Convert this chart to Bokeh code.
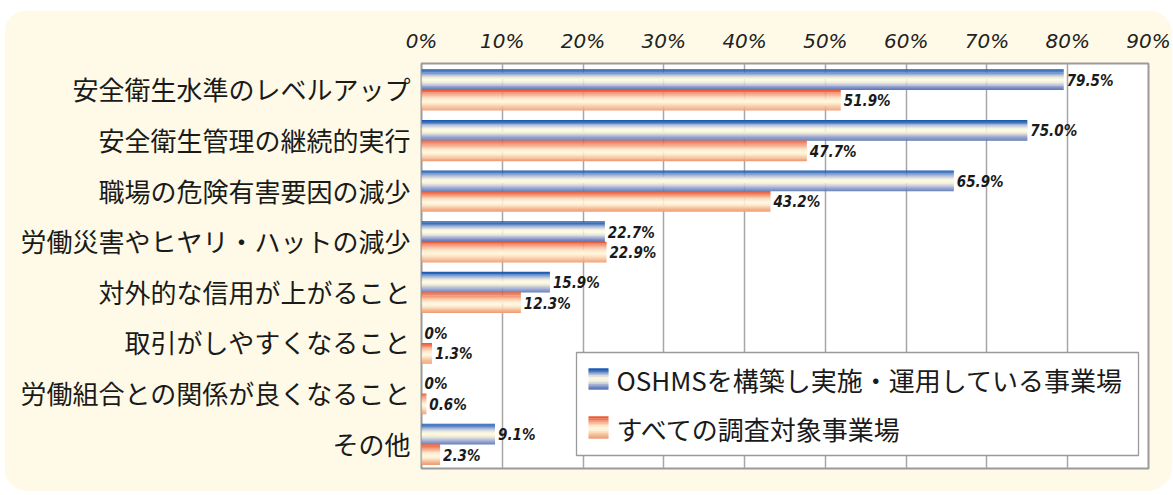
from bokeh.plotting import figure
from bokeh.models import FactorRange, Range1d, FixedTicker, ColumnDataSource, Spacer
from bokeh.transform import dodge
from bokeh.layouts import column, row
from bokeh.core.properties import value
from bokeh.embed import file_html
from bokeh.resources import INLINE

# ---------------- data ----------------
categories = [
    "安全衛生水準のレベルアップ",
    "安全衛生管理の継続的実行",
    "職場の危険有害要因の減少",
    "労働災害やヒヤリ・ハットの減少",
    "対外的な信用が上がること",
    "取引がしやすくなること",
    "労働組合との関係が良くなること",
    "その他",
]
oshms_sites = [79.5, 75.0, 65.9, 22.7, 15.9, 0.0, 0.0, 9.1]
all_sites = [51.9, 47.7, 43.2, 22.9, 12.3, 1.3, 0.6, 2.3]
series_names = ["OSHMSを構築し実施・運用している事業場", "すべての調査対象事業場"]
x_ticks = [0, 10, 20, 30, 40, 50, 60, 70, 80, 90]
tick_labels = ["0%", "10%", "20%", "30%", "40%", "50%", "60%", "70%", "80%", "90%"]

# ---------------- styles ----------------
CREAM = "#fefae7"
BLUE_STOPS = [(0.0, "#1a5cb0"), (0.1, "#3f6fbc"), (0.25, "#a9b8d9"), (0.4, "#f3f0dc"),
              (0.52, "#fffbe2"), (0.65, "#ecebd8"), (0.78, "#b9bfd8"), (0.9, "#8494c8"), (1.0, "#5e7cba")]
ORANGE_STOPS = [(0.0, "#e85c3a"), (0.1, "#ee7a57"), (0.25, "#f6b193"), (0.42, "#fde6c8"),
                (0.58, "#fff9e0"), (0.72, "#fde3c3"), (0.86, "#f7bf98"), (1.0, "#f0a078")]


def _hex(c):
    c = c.lstrip("#")
    return tuple(int(c[i:i + 2], 16) for i in (0, 2, 4))


def grad(stops, t):
    for (t0, c0), (t1, c1) in zip(stops[:-1], stops[1:]):
        if t <= t1:
            f = (t - t0) / (t1 - t0) if t1 > t0 else 0
            a, b = _hex(c0), _hex(c1)
            return "#%02x%02x%02x" % tuple(int(round(a[i] + (b[i] - a[i]) * f)) for i in range(3))
    return stops[-1][1]


def fmt(v):
    return "0%" if v == 0 else f"{v:.1f}%"


src = ColumnDataSource(dict(
    cat=categories,
    oshms=oshms_sites,
    allv=all_sites,
    oshms_lbl=[fmt(v) for v in oshms_sites],
    all_lbl=[fmt(v) for v in all_sites],
))

W, H = 1168, 481
p = figure(
    width=W, height=H,
    y_range=FactorRange(factors=list(reversed(categories)), range_padding=0),
    x_range=Range1d(0, 90),
    x_axis_location="above",
    output_backend="svg", toolbar_location=None,
    min_border_left=417, min_border_right=24, min_border_top=53, min_border_bottom=23,
)
p.border_fill_color = CREAM
p.background_fill_color = "white"
p.outline_line_color = "#9a9a9a"
p.outline_line_width = 2
p.styles = {"border-radius": "24px", "overflow": "hidden"}

# grid
p.ygrid.grid_line_color = None
p.xgrid.ticker = FixedTicker(ticks=x_ticks)
p.xgrid.grid_line_color = "#a6a6a6"
p.xgrid.grid_line_width = 1.5

# x axis
xa = p.xaxis[0]
xa.ticker = FixedTicker(ticks=x_ticks)
xa.major_label_overrides = {t: l for t, l in zip(x_ticks, tick_labels)}
xa.axis_line_color = None
xa.major_tick_line_color = None
xa.minor_tick_line_color = None
xa.major_label_text_font = "DejaVu Sans"
xa.major_label_text_font_style = "italic"
xa.major_label_text_font_size = "20px"
xa.major_label_text_color = "#222222"
xa.major_label_standoff = 5

# y axis
ya = p.yaxis[0]
ya.axis_line_color = None
ya.major_tick_line_color = None
ya.minor_tick_line_color = None
ya.major_label_text_font = "Noto Sans CJK JP"
ya.major_label_text_font_size = "26px"
ya.major_label_text_color = "#1a1a1a"
ya.major_label_standoff = 5

# gradient bars
BAR_H = 0.405
N = 22
LBL_FONT = value("DejaVu Sans Condensed, Liberation Sans, sans-serif")
series = [("oshms", "oshms_lbl", 0.18, BLUE_STOPS), ("allv", "all_lbl", -0.225, ORANGE_STOPS)]
for col, lbl, center, stops in series:
    for k in range(N):
        off = center + BAR_H / 2 - (k + 0.5) * BAR_H / N
        p.hbar(y=dodge("cat", off, range=p.y_range), right=col, left=0,
               height=BAR_H / N * 1.25, source=src,
               fill_color=grad(stops, k / (N - 1)), line_color=None)
    p.text(x=col, y=dodge("cat", center - 0.02, range=p.y_range), text=lbl, source=src,
           x_offset=3, text_baseline="middle", text_align="left",
           text_font=LBL_FONT, text_font_style="bold italic",
           text_font_size="15px", text_color="#1a1a1a")

# legend (manual, to show gradient swatches)
px_x = 90 / 727.0
px_y = 8 / 405.0
lg_left, lg_right = (576 - 421) * px_x, (1138 - 421) * px_x
lg_top, lg_bottom = (468 - 352) * px_y, (468 - 455) * px_y
p.quad(left=[lg_left], right=[lg_right], top=[lg_top], bottom=[lg_bottom],
       fill_color="white", line_color="#9a9a9a", line_width=1.3)
sw_l, sw_r = (588 - 421) * px_x, (608 - 421) * px_x
swatches = [((468 - 368) * px_y, (468 - 389) * px_y, BLUE_STOPS, (468 - 379) * px_y),
            ((468 - 416) * px_y, (468 - 438) * px_y, ORANGE_STOPS, (468 - 428) * px_y)]
M = 12
for (top, bot, stops, ty), name in zip(swatches, series_names):
    h = (top - bot) / M
    for k in range(M):
        p.quad(left=[sw_l], right=[sw_r], top=[top - k * h + h * 0.1], bottom=[top - (k + 1) * h - h * 0.1],
               fill_color=grad(stops, k / (M - 1)), line_color=None)
    p.text(x=[(616 - 421) * px_x], y=[ty], text=[name], text_baseline="middle",
           text_font=value("Noto Sans CJK JP"), text_font_size="26px", text_color="#1a1a1a")

layout = column(Spacer(height=10), row(Spacer(width=4), p))
open("out.html", "w").write(file_html(layout, INLINE))
